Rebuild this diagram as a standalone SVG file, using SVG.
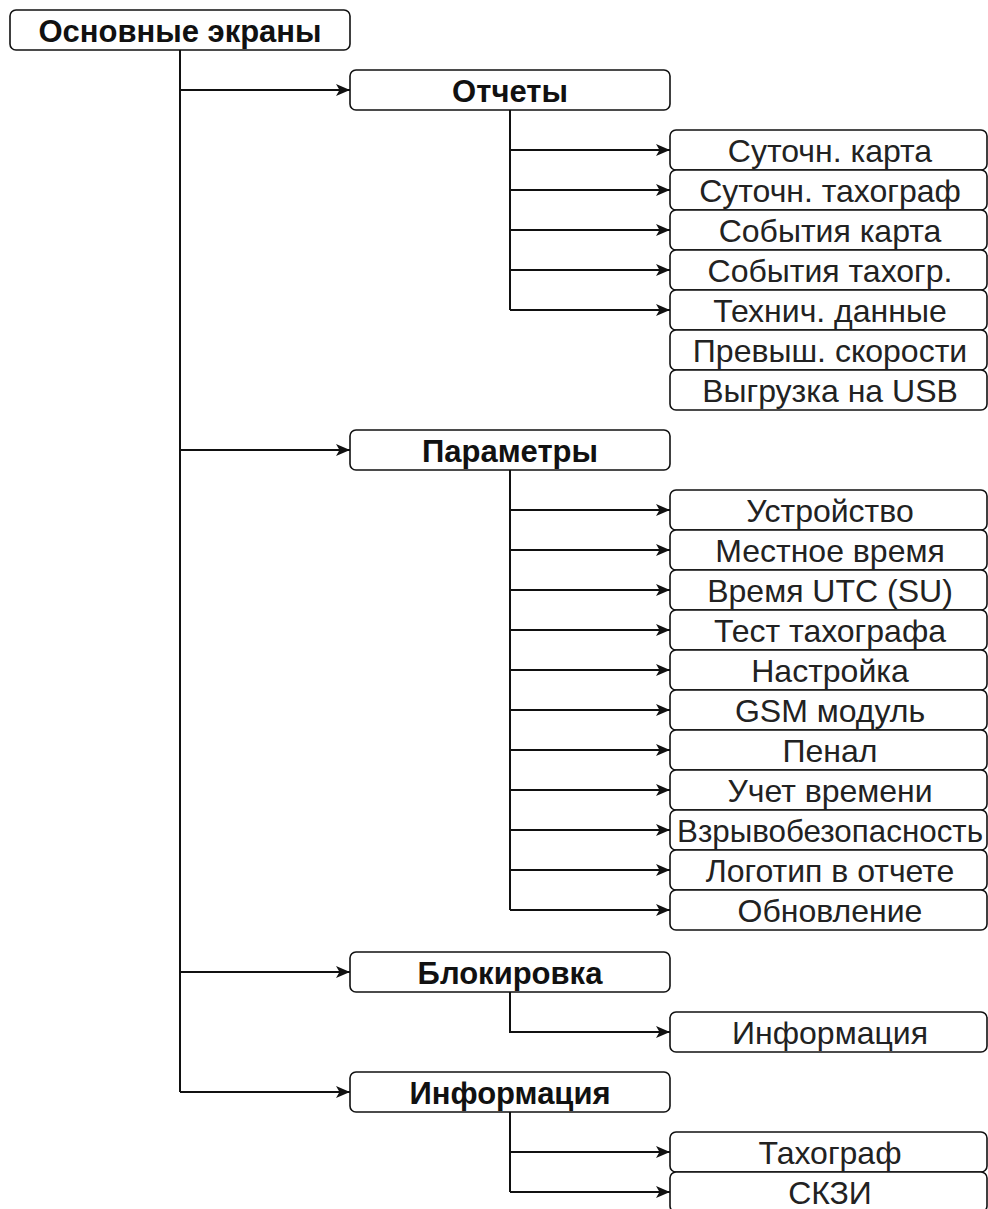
<svg xmlns="http://www.w3.org/2000/svg" width="988" height="1209" viewBox="0 0 988 1209">
<style>
.box{fill:#fff;stroke:#111;stroke-width:1.6}
.t{font-family:"Liberation Sans",Arial,sans-serif;font-size:32px;fill:#222;text-anchor:middle}
.b{font-weight:bold;font-size:31px;fill:#111}
.c{fill:none;stroke:#111;stroke-width:2}
</style>
<defs>
<marker id="arr" viewBox="0 0 14 12" refX="14" refY="6" markerWidth="14" markerHeight="12" markerUnits="userSpaceOnUse" orient="auto">
<path d="M0,0 L14,6 L0,12 L3.5,6 Z" fill="#111"/>
</marker>
</defs>
<rect width="988" height="1209" fill="#fff"/>
<g id="connectors">
<path class="c" d="M180,50 V1092"/>
<path class="c" d="M180,90 H350" marker-end="url(#arr)"/>
<path class="c" d="M180,450 H350" marker-end="url(#arr)"/>
<path class="c" d="M180,972 H350" marker-end="url(#arr)"/>
<path class="c" d="M180,1092 H350" marker-end="url(#arr)"/>
<path class="c" d="M510,110 V310"/>
<path class="c" d="M510,150 H670" marker-end="url(#arr)"/>
<path class="c" d="M510,190 H670" marker-end="url(#arr)"/>
<path class="c" d="M510,230 H670" marker-end="url(#arr)"/>
<path class="c" d="M510,270 H670" marker-end="url(#arr)"/>
<path class="c" d="M510,310 H670" marker-end="url(#arr)"/>
<path class="c" d="M510,470 V910"/>
<path class="c" d="M510,510 H670" marker-end="url(#arr)"/>
<path class="c" d="M510,550 H670" marker-end="url(#arr)"/>
<path class="c" d="M510,590 H670" marker-end="url(#arr)"/>
<path class="c" d="M510,630 H670" marker-end="url(#arr)"/>
<path class="c" d="M510,670 H670" marker-end="url(#arr)"/>
<path class="c" d="M510,710 H670" marker-end="url(#arr)"/>
<path class="c" d="M510,750 H670" marker-end="url(#arr)"/>
<path class="c" d="M510,790 H670" marker-end="url(#arr)"/>
<path class="c" d="M510,830 H670" marker-end="url(#arr)"/>
<path class="c" d="M510,870 H670" marker-end="url(#arr)"/>
<path class="c" d="M510,910 H670" marker-end="url(#arr)"/>
<path class="c" d="M510,992 V1032 H670" marker-end="url(#arr)"/>
<path class="c" d="M510,1112 V1192"/>
<path class="c" d="M510,1152 H670" marker-end="url(#arr)"/>
<path class="c" d="M510,1192 H670" marker-end="url(#arr)"/>
</g>
<g id="root"><rect class="box" x="10" y="10" width="340" height="40" rx="6"/><text class="t b" x="180" y="41.5">Основные экраны</text></g>
<g id="otchety"><rect class="box" x="350" y="70" width="320" height="40" rx="6"/><text class="t b" x="510" y="101.5">Отчеты</text></g>
<g id="r1"><rect class="box" x="670" y="130" width="317" height="40" rx="6"/><text class="t" x="830" y="161.5">Суточн. карта</text></g>
<g id="r2"><rect class="box" x="670" y="170" width="317" height="40" rx="6"/><text class="t" x="830" y="201.5">Суточн. тахограф</text></g>
<g id="r3"><rect class="box" x="670" y="210" width="317" height="40" rx="6"/><text class="t" x="830" y="241.5">События карта</text></g>
<g id="r4"><rect class="box" x="670" y="250" width="317" height="40" rx="6"/><text class="t" x="830" y="281.5">События тахогр.</text></g>
<g id="r5"><rect class="box" x="670" y="290" width="317" height="40" rx="6"/><text class="t" x="830" y="321.5">Технич. данные</text></g>
<g id="r6"><rect class="box" x="670" y="330" width="317" height="40" rx="6"/><text class="t" x="830" y="361.5">Превыш. скорости</text></g>
<g id="r7"><rect class="box" x="670" y="370" width="317" height="40" rx="6"/><text class="t" x="830" y="401.5">Выгрузка на USB</text></g>
<g id="parametry"><rect class="box" x="350" y="430" width="320" height="40" rx="6"/><text class="t b" x="510" y="461.5">Параметры</text></g>
<g id="p1"><rect class="box" x="670" y="490" width="317" height="40" rx="6"/><text class="t" x="830" y="521.5">Устройство</text></g>
<g id="p2"><rect class="box" x="670" y="530" width="317" height="40" rx="6"/><text class="t" x="830" y="561.5">Местное время</text></g>
<g id="p3"><rect class="box" x="670" y="570" width="317" height="40" rx="6"/><text class="t" x="830" y="601.5">Время UTC (SU)</text></g>
<g id="p4"><rect class="box" x="670" y="610" width="317" height="40" rx="6"/><text class="t" x="830" y="641.5">Тест тахографа</text></g>
<g id="p5"><rect class="box" x="670" y="650" width="317" height="40" rx="6"/><text class="t" x="830" y="681.5">Настройка</text></g>
<g id="p6"><rect class="box" x="670" y="690" width="317" height="40" rx="6"/><text class="t" x="830" y="721.5">GSM модуль</text></g>
<g id="p7"><rect class="box" x="670" y="730" width="317" height="40" rx="6"/><text class="t" x="830" y="761.5">Пенал</text></g>
<g id="p8"><rect class="box" x="670" y="770" width="317" height="40" rx="6"/><text class="t" x="830" y="801.5">Учет времени</text></g>
<g id="p9"><rect class="box" x="670" y="810" width="317" height="40" rx="6"/><text class="t" x="830" y="841.5" textLength="306" lengthAdjust="spacingAndGlyphs">Взрывобезопасность</text></g>
<g id="p10"><rect class="box" x="670" y="850" width="317" height="40" rx="6"/><text class="t" x="830" y="881.5">Логотип в отчете</text></g>
<g id="p11"><rect class="box" x="670" y="890" width="317" height="40" rx="6"/><text class="t" x="830" y="921.5">Обновление</text></g>
<g id="blokirovka"><rect class="box" x="350" y="952" width="320" height="40" rx="6"/><text class="t b" x="510" y="983.5">Блокировка</text></g>
<g id="b1"><rect class="box" x="670" y="1012" width="317" height="40" rx="6"/><text class="t" x="830" y="1043.5">Информация</text></g>
<g id="informaciya"><rect class="box" x="350" y="1072" width="320" height="40" rx="6"/><text class="t b" x="510" y="1103.5">Информация</text></g>
<g id="i1"><rect class="box" x="670" y="1132" width="317" height="40" rx="6"/><text class="t" x="830" y="1163.5">Тахограф</text></g>
<g id="i2"><rect class="box" x="670" y="1172" width="317" height="40" rx="6"/><text class="t" x="830" y="1203.5">СКЗИ</text></g>
</svg>
